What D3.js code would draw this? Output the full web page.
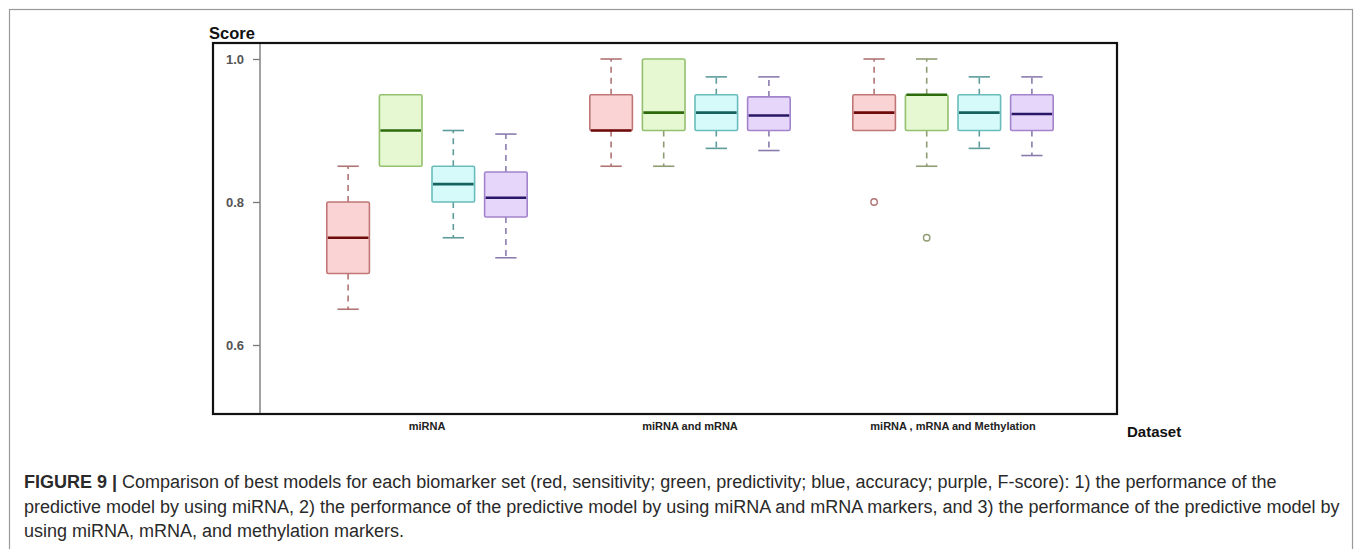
<!DOCTYPE html>
<html><head><meta charset="utf-8">
<script src="https://cdn.jsdelivr.net/npm/d3@7"></script>
<style>
html,body{margin:0;padding:0;background:#fff;}
svg{display:block;}
</style>
</head><body>
<svg id="chart" width="1355" height="549"></svg>
<script>
const groups = ["miRNA", "miRNA and mRNA", "miRNA , mRNA and Methylation"];
const seriesNames = ["sensitivity", "predictivity", "accuracy", "F-score"];
const yTicks = [0.6, 0.8, 1.0];
// [lower whisker, Q1, median, Q3, upper whisker] per group
const sensitivity = [[0.65,0.70,0.75,0.80,0.85],[0.85,0.90,0.90,0.95,1.0],[0.90,0.90,0.925,0.95,1.0]];
const predictivity = [[0.85,0.85,0.90,0.95,0.95],[0.85,0.90,0.925,1.0,1.0],[0.85,0.90,0.95,0.95,1.0]];
const accuracy = [[0.75,0.80,0.825,0.85,0.90],[0.875,0.90,0.925,0.95,0.975],[0.875,0.90,0.925,0.95,0.975]];
const fscore = [[0.722,0.779,0.806,0.842,0.895],[0.872,0.90,0.921,0.947,0.975],[0.865,0.90,0.923,0.95,0.975]];
const sensitivityOutliers = [[],[],[0.80]];
const predictivityOutliers = [[],[],[0.75]];
const accuracyOutliers = [[],[],[]];
const fscoreOutliers = [[],[],[]];

const seriesData = [sensitivity, predictivity, accuracy, fscore];
const seriesOut = [sensitivityOutliers, predictivityOutliers, accuracyOutliers, fscoreOutliers];
const fills = ["#fad4d4", "#e6f8d2", "#d6fafa", "#e6d6fa"];
const strokes = ["#c07676", "#94c070", "#6abcbc", "#a284cc"];
const whiskerC = ["#b07474", "#8e9c74", "#5e9c9c", "#8c7cae"];
const medians = ["#6e0a0a", "#2c6a0c", "#15625f", "#281666"];

const svg = d3.select("#chart");

// outer figure border
svg.append("rect").attr("x",9.5).attr("y",9.5).attr("width",1343).attr("height",600)
  .attr("fill","none").attr("stroke","#999").attr("stroke-width",1.2);

const y = d3.scaleLinear().domain([0.6, 1.0]).range([345, 59]);
const x0 = d3.scaleBand().domain(groups).range([295.5, 1084.5]).padding(0);
const x1 = d3.scaleBand().domain(seriesNames).range([-105.2, 105.2]).padding(0);
const boxW = x1.bandwidth() * 0.81;
const capW = boxW / 2;

// plot frame
svg.append("rect").attr("x",213).attr("y",43).attr("width",904).attr("height",371)
  .attr("fill","none").attr("stroke","#111").attr("stroke-width",2.2);

// y axis
const yAxis = d3.axisLeft(y).tickValues(yTicks).tickFormat(d3.format(".1f")).tickSize(7).tickPadding(9);
const ya = svg.append("g").attr("transform","translate(260,0)").call(yAxis);
ya.select(".domain").remove();
ya.selectAll(".tick line").attr("stroke","#777").attr("stroke-width",1.3);
ya.selectAll(".tick text").attr("fill","#555").style("font-family","Liberation Sans, Arial, sans-serif")
  .style("font-size","13px").style("font-weight","bold");
svg.append("line").attr("x1",260).attr("x2",260).attr("y1",44).attr("y2",413)
  .attr("stroke","#8a8a8a").attr("stroke-width",1.6);

svg.append("text").attr("x",209).attr("y",38.5).text("Score")
  .style("font-family","Liberation Sans, Arial, sans-serif").style("font-size","16.5px").style("font-weight","bold").attr("fill","#111");

// boxes
seriesNames.forEach((s, si) => {
  groups.forEach((g, gi) => {
    const d = seriesData[si][gi];
    const cx = x0(g) + x0.bandwidth()/2 + x1(s) + x1.bandwidth()/2;
    const gg = svg.append("g");
    if (d[4] > d[3]) {
      gg.append("line").attr("x1",cx).attr("x2",cx).attr("y1",y(d[3])).attr("y2",y(d[4]))
        .attr("stroke",whiskerC[si]).attr("stroke-width",1.6).attr("stroke-dasharray","6,5");
      gg.append("line").attr("x1",cx-capW/2).attr("x2",cx+capW/2).attr("y1",y(d[4])).attr("y2",y(d[4]))
        .attr("stroke",whiskerC[si]).attr("stroke-width",1.6);
    }
    if (d[0] < d[1]) {
      gg.append("line").attr("x1",cx).attr("x2",cx).attr("y1",y(d[1])).attr("y2",y(d[0]))
        .attr("stroke",whiskerC[si]).attr("stroke-width",1.6).attr("stroke-dasharray","6,5");
      gg.append("line").attr("x1",cx-capW/2).attr("x2",cx+capW/2).attr("y1",y(d[0])).attr("y2",y(d[0]))
        .attr("stroke",whiskerC[si]).attr("stroke-width",1.6);
    }
    gg.append("rect").attr("x",cx-boxW/2).attr("y",y(d[3])).attr("width",boxW).attr("height",y(d[1])-y(d[3]))
      .attr("rx",1.5).attr("fill",fills[si]).attr("stroke",strokes[si]).attr("stroke-width",1.6);
    gg.append("line").attr("x1",cx-boxW/2+1).attr("x2",cx+boxW/2-1).attr("y1",y(d[2])).attr("y2",y(d[2]))
      .attr("stroke",medians[si]).attr("stroke-width",2.6);
    seriesOut[si][gi].forEach(o => {
      gg.append("circle").attr("cx",cx).attr("cy",y(o)).attr("r",3.2)
        .attr("fill","none").attr("stroke",whiskerC[si]).attr("stroke-width",1.4);
    });
  });
});

// x labels
const xAxis = d3.axisBottom(x0).tickSize(0).tickPadding(0);
const xa = svg.append("g").attr("transform","translate(0,422)").call(xAxis);
xa.select(".domain").remove();
xa.selectAll(".tick text").attr("fill","#222").attr("dy","0.71em")
  .style("font-family","Liberation Sans Narrow, Liberation Sans, Arial, sans-serif").style("font-size","11px").style("font-weight","bold");

svg.append("text").attr("x",1127).attr("y",437).text("Dataset")
  .style("font-family","Liberation Sans, Arial, sans-serif").style("font-size","15px").style("font-weight","bold").attr("fill","#111");

// caption
const capLines = [
  [["FIGURE 9 | ", true], ["Comparison of best models for each biomarker set (red, sensitivity; green, predictivity; blue, accuracy; purple, F-score): 1) the performance of the", false]],
  [["predictive model by using miRNA, 2) the performance of the predictive model by using miRNA and mRNA markers, and 3) the performance of the predictive model by", false]],
  [["using miRNA, mRNA, and methylation markers.", false]]
];
const capY = [488, 512.5, 537];
capLines.forEach((ln, i) => {
  const t = svg.append("text").attr("x",24).attr("y",capY[i])
    .style("font-family","Liberation Sans, Arial, sans-serif").style("font-size","18px").attr("fill","#2a2a2a");
  ln.forEach(([txt,b]) => t.append("tspan").text(txt).style("font-weight", b ? "bold" : "normal"));
});
</script>
</body></html>
